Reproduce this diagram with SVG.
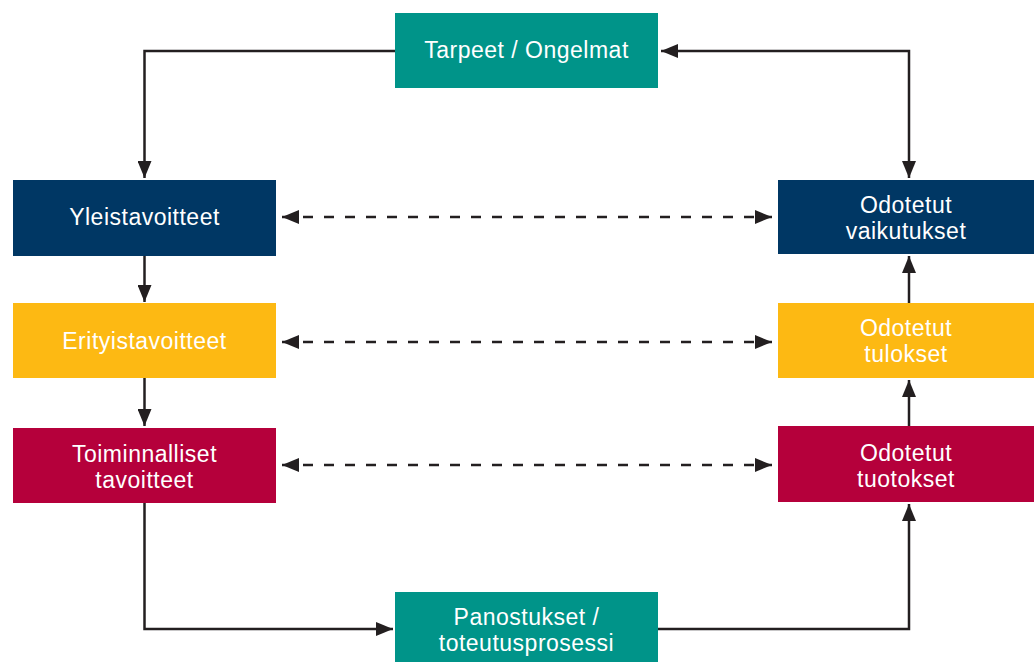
<svg xmlns="http://www.w3.org/2000/svg" width="1034" height="662" viewBox="0 0 1034 662">
<style>
.teal{fill:#009489}
.blue{fill:#003764}
.yellow{fill:#fdb913}
.red{fill:#b5003b}
text{font-family:"Liberation Sans",Arial,sans-serif;font-size:23px;letter-spacing:0.5px;fill:#ffffff;text-anchor:middle}
.ln{fill:none;stroke:#231f20;stroke-width:2.5}
.dash{fill:none;stroke:#231f20;stroke-width:2.5;stroke-dasharray:10 11}
</style>
<defs>
<marker id="ah" markerUnits="userSpaceOnUse" markerWidth="18" markerHeight="14" viewBox="0 0 18 14" refX="17" refY="7" orient="auto-start-reverse">
<path d="M0,0 L17,7 L0,14 Z" fill="#231f20"/>
</marker>
</defs>
<g id="connectors">
<path class="ln" d="M395,51 H144.5 V178" marker-end="url(#ah)"/>
<path class="ln" d="M144.5,256 V302" marker-end="url(#ah)"/>
<path class="ln" d="M144.5,378 V426" marker-end="url(#ah)"/>
<path class="ln" d="M144.5,503 V629 H393" marker-end="url(#ah)"/>
<path class="ln" d="M658,629 H909 V504" marker-end="url(#ah)"/>
<path class="ln" d="M909,426 V380" marker-end="url(#ah)"/>
<path class="ln" d="M909,304 V256" marker-end="url(#ah)"/>
<path class="ln" d="M661,51 H909 V178" marker-start="url(#ah)" marker-end="url(#ah)"/>
<path class="dash" d="M282,217 H772" marker-start="url(#ah)" marker-end="url(#ah)"/>
<path class="dash" d="M282,342 H772" marker-start="url(#ah)" marker-end="url(#ah)"/>
<path class="dash" d="M282,465 H772" marker-start="url(#ah)" marker-end="url(#ah)"/>
</g>
<g id="tarpeet"><rect class="teal" x="395" y="13" width="263" height="75"/><text x="526.5" y="58">Tarpeet / Ongelmat</text></g>
<g id="yleistavoitteet"><rect class="blue" x="13" y="180" width="263" height="76"/><text x="144.5" y="225">Yleistavoitteet</text></g>
<g id="erityistavoitteet"><rect class="yellow" x="13" y="303" width="263" height="75"/><text x="144.5" y="349">Erityistavoitteet</text></g>
<g id="toiminnalliset"><rect class="red" x="13" y="428" width="263" height="75"/><text x="144.5" y="461.5">Toiminnalliset</text><text x="144.5" y="487.5">tavoitteet</text></g>
<g id="vaikutukset"><rect class="blue" x="778" y="180" width="256" height="74"/><text x="906" y="212.5">Odotetut</text><text x="906" y="238.5">vaikutukset</text></g>
<g id="tulokset"><rect class="yellow" x="778" y="303" width="256" height="75"/><text x="906" y="336">Odotetut</text><text x="906" y="362">tulokset</text></g>
<g id="tuotokset"><rect class="red" x="778" y="426" width="256" height="76"/><text x="906" y="460.5">Odotetut</text><text x="906" y="487">tuotokset</text></g>
<g id="panostukset"><rect class="teal" x="395" y="592" width="263" height="70"/><text x="526.5" y="624.5">Panostukset /</text><text x="526.5" y="651">toteutusprosessi</text></g>
</svg>
